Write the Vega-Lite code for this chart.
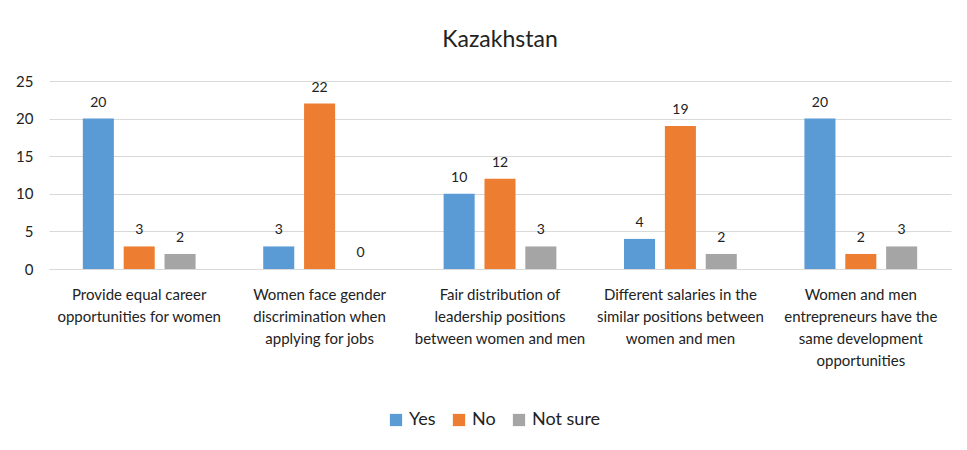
{
  "$schema": "https://vega.github.io/schema/vega-lite/v6.json",
  "autosize": {"type": "none"},
  "width": 902,
  "height": 188,
  "padding": {"left": 49, "top": 81, "right": 16, "bottom": 181},
  "background": "white",
  "title": {"text": "Kazakhstan", "fontSize": 23, "font": "Lato", "fontWeight": "normal", "color": "#222222", "anchor": "middle", "offset": 22},
  "data": {"values": [
    {"statement": "Provide equal career opportunities for women", "answer": "Yes", "count": 20},
    {"statement": "Provide equal career opportunities for women", "answer": "No", "count": 3},
    {"statement": "Provide equal career opportunities for women", "answer": "Not sure", "count": 2},
    {"statement": "Women face gender discrimination when applying for jobs", "answer": "Yes", "count": 3},
    {"statement": "Women face gender discrimination when applying for jobs", "answer": "No", "count": 22},
    {"statement": "Women face gender discrimination when applying for jobs", "answer": "Not sure", "count": 0},
    {"statement": "Fair distribution of leadership positions between women and men", "answer": "Yes", "count": 10},
    {"statement": "Fair distribution of leadership positions between women and men", "answer": "No", "count": 12},
    {"statement": "Fair distribution of leadership positions between women and men", "answer": "Not sure", "count": 3},
    {"statement": "Different salaries in the similar positions between women and men", "answer": "Yes", "count": 4},
    {"statement": "Different salaries in the similar positions between women and men", "answer": "No", "count": 19},
    {"statement": "Different salaries in the similar positions between women and men", "answer": "Not sure", "count": 2},
    {"statement": "Women and men entrepreneurs have the same development opportunities", "answer": "Yes", "count": 20},
    {"statement": "Women and men entrepreneurs have the same development opportunities", "answer": "No", "count": 2},
    {"statement": "Women and men entrepreneurs have the same development opportunities", "answer": "Not sure", "count": 3}
  ]},
  "encoding": {
    "x": {
      "field": "statement", "type": "nominal", "sort": null,
      "scale": {"paddingInner": 0.375, "paddingOuter": 0.1875},
      "axis": {
        "title": null, "labelAngle": 0, "ticks": false, "domain": true, "domainColor": "#D9D9D9",
        "labelFont": "Lato", "labelFontSize": 15, "labelColor": "#222222", "labelPadding": 18, "labelLineHeight": 22, "labelLimit": 300,
        "labelExpr": "datum.value == 'Provide equal career opportunities for women' ? ['Provide equal career', 'opportunities for women'] : datum.value == 'Women face gender discrimination when applying for jobs' ? ['Women face gender', 'discrimination when', 'applying for jobs'] : datum.value == 'Fair distribution of leadership positions between women and men' ? ['Fair distribution of', 'leadership positions', 'between women and men'] : datum.value == 'Different salaries in the similar positions between women and men' ? ['Different salaries in the', 'similar positions between', 'women and men'] : ['Women and men', 'entrepreneurs have the', 'same development', 'opportunities']"
      }
    },
    "xOffset": {"field": "answer", "type": "nominal", "sort": ["Yes", "No", "Not sure"], "scale": {"paddingInner": 0.24}},
    "y": {
      "field": "count", "type": "quantitative",
      "scale": {"domain": [0, 25]},
      "axis": {"title": null, "values": [0, 5, 10, 15, 20, 25], "ticks": false, "domain": false, "gridColor": "#D9D9D9", "labelFont": "Lato", "labelFontSize": 15, "labelColor": "#222222", "labelPadding": 16}
    }
  },
  "layer": [
    {
      "mark": {"type": "bar"},
      "encoding": {
        "color": {
          "field": "answer", "type": "nominal", "sort": ["Yes", "No", "Not sure"],
          "scale": {"domain": ["Yes", "No", "Not sure"], "range": ["#5B9BD5", "#ED7D31", "#A5A5A5"]},
          "legend": {"title": null, "orient": "none", "direction": "horizontal", "legendX": 338, "legendY": 330, "symbolType": "square", "symbolSize": 150, "symbolStrokeWidth": 0, "labelFont": "Lato", "labelFontSize": 18, "labelColor": "#222222", "columnPadding": 14, "labelOffset": 4}
        }
      }
    },
    {
      "mark": {"type": "text", "baseline": "bottom", "dy": -9, "font": "Lato", "fontSize": 14, "color": "#222222"},
      "encoding": {"text": {"field": "count", "type": "quantitative"}}
    }
  ],
  "config": {"view": {"stroke": null}}
}
